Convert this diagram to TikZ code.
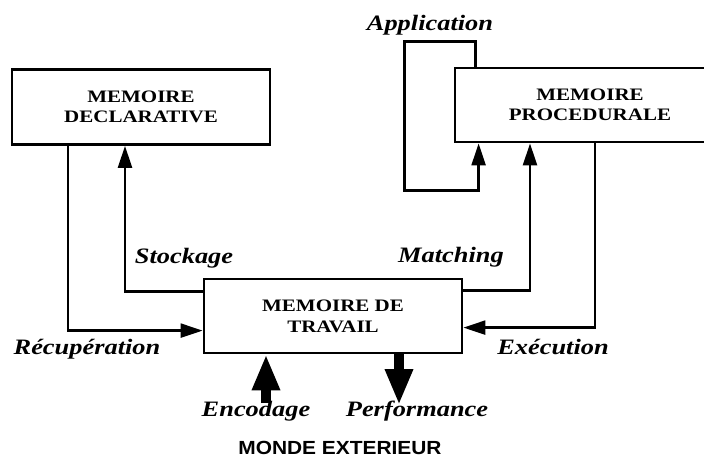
\documentclass[tikz,border=0pt]{standalone}
\usepackage{fontspec}
\setmainfont{Liberation Serif}[FakeStretch=1.2]
\newfontfamily\monde{Liberation Sans}[FakeStretch=1.1]
\usetikzlibrary{arrows.meta}
\begin{document}
\begin{tikzpicture}[x=1pt,y=-1pt,
  box/.style={draw,line width=2.8pt,minimum width=#1,inner sep=0pt,align=center,
    font=\bfseries\fontsize{17.5}{20}\selectfont},
  conn/.style={line width=2.4pt,-{Triangle[width=14pt,length=22pt]}},
  plain/.style={line width=2.4pt},
  big/.style={line width=10pt,-{Triangle[width=26pt,length=36pt]}},
  lab/.style={font=\bfseries\itshape\fontsize{22}{24}\selectfont,inner sep=0pt}]
\useasboundingbox (0,0) rectangle (704,461);
\fill[white] (0,0) rectangle (704,461);
% boxes
\node[box=258pt,minimum height=75pt] (decl) at (141,107) {MEMOIRE\\DECLARATIVE};
\node[box=270pt,minimum height=74pt] (proc) at (590,105) {MEMOIRE\\PROCEDURALE};
\node[box=258pt,minimum height=74pt,font=\bfseries\fontsize{17.5}{21}\selectfont] (work) at (333,316) {MEMOIRE DE\\TRAVAIL};
% connectors
\draw[conn] ([yshift=-14pt]work.north west) -| ([xshift=-16pt]decl.south);
\draw[conn] ([xshift=-73pt]decl.south) |- ([yshift=-53pt]work.north west);
\draw[conn] ([yshift=-13pt]work.north east) -| ([xshift=-60pt]proc.south);
\draw[conn] ([xshift=5pt]proc.south) |- ([yshift=-50pt]work.north east);
\draw[conn] ([xshift=22pt]proc.north west) -- ++(0,25pt) -- ++(-71pt,0) -- ++(0,-149pt)
   -| ([xshift=25pt]proc.south west);
% external arrows
\coordinate (enc) at (266,403);
\coordinate (perf) at (399,405);
\draw[big] (enc) -- (enc |- work.south);
\draw[big] (perf |- work.south) -- (perf);
% labels
\node[lab] (lapp) at (430,25) {Application};
\node[lab] (lsto) at (184,258) {Stockage};
\node[lab] (lmat) at (451,257) {Matching};
\node[lab] (lrec) at (87,349) {Récupération};
\node[lab] (lexe) at (553,347) {Exécution};
\node[lab] (lenc) at (256,411) {Encodage};
\node[lab] (lper) at (417,411) {Performance};
\node[font=\monde\bfseries\fontsize{19}{22}\selectfont,inner sep=0pt] (monde) at (340,448) {MONDE EXTERIEUR};
\end{tikzpicture}
\end{document}
